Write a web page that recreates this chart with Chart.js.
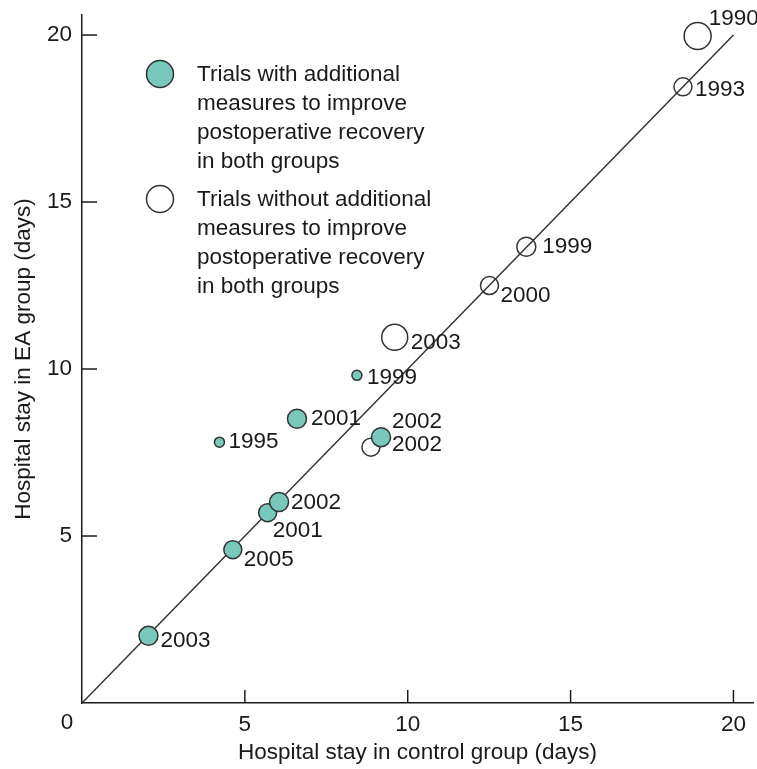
<!DOCTYPE html>
<html>
<head>
<meta charset="utf-8">
<script src="https://cdn.jsdelivr.net/npm/chart.js@4"></script>
<style>
  html, body { margin: 0; padding: 0; background: #fff; overflow: hidden; }
  #wrap { width: 757px; height: 769px; }
</style>
</head>
<body>
<div id="wrap"><canvas id="chart"></canvas></div>
<script>
// trials with additional measures (teal)
const withX = [2.04, 4.63, 5.70, 6.05, 6.6, 4.22, 8.44, 9.18];
const withY = [2.01, 4.59, 5.70, 6.02, 8.51, 7.81, 9.81, 7.96];
const withSize = [9.5, 9, 9, 9.5, 9.5, 5, 5, 9.5];
const withYear = ['2003', '2005', '2001', '2002', '2001', '1995', '1999', '2002'];

// trials without additional measures (open)
const withoutX = [8.87, 9.6, 12.51, 13.64, 18.45, 18.9];
const withoutY = [7.66, 10.95, 12.5, 13.66, 18.45, 19.97];
const withoutSize = [9, 13, 9, 9.5, 9, 13.5];
const withoutYear = ['2002', '2003', '2000', '1999', '1993', '1990'];

const tickValues = [5, 10, 15, 20];
const lineOfEquality = [0, 20];

// where each year label sits relative to its circle
const withLabelPos = [[12, 5], [11, 10], [5, 18], [12, 1], [14, 0], [9, 0], [10, 2], [11, -15]];
const withoutLabelPos = [[21, -2], [16, 6], [11, 10], [16, 0], [12, 3], [11, -17]];

const FONT = "'Liberation Sans', Arial, sans-serif";
const SIZE = 22.5;
const INK = '#1a1a1a';
const TEAL = '#78c8bc';

const extras = {
  id: 'extras',
  afterDatasetsDraw(chart) {
    const { ctx, scales: { x, y } } = chart;
    ctx.save();
    // inward tick marks
    ctx.strokeStyle = INK;
    ctx.lineWidth = 1.5;
    tickValues.forEach(v => {
      const px = x.getPixelForValue(v);
      ctx.beginPath(); ctx.moveTo(px, y.bottom); ctx.lineTo(px, y.bottom - 13); ctx.stroke();
      const py = y.getPixelForValue(v);
      ctx.beginPath(); ctx.moveTo(x.left, py); ctx.lineTo(x.left + 15, py); ctx.stroke();
    });
    // origin label
    ctx.fillStyle = INK;
    ctx.font = SIZE + 'px ' + FONT;
    ctx.textAlign = 'center';
    ctx.textBaseline = 'middle';
    ctx.fillText('0', x.left - 15, y.bottom + 20);

    // year labels
    ctx.textAlign = 'left';
    const put = (dsIndex, years, pos) => {
      chart.getDatasetMeta(dsIndex).data.forEach((el, i) => {
        ctx.fillText(years[i], el.x + pos[i][0], el.y + pos[i][1]);
      });
    };
    put(0, withYear, withLabelPos);
    put(2, withoutYear, withoutLabelPos);

    // legend
    const legend = [
      { cy: 74, fill: TEAL, lines: ['Trials with additional', 'measures to improve', 'postoperative recovery', 'in both groups'] },
      { cy: 199, fill: '#fff', lines: ['Trials without additional', 'measures to improve', 'postoperative recovery', 'in both groups'] }
    ];
    legend.forEach(item => {
      ctx.beginPath();
      ctx.arc(160, item.cy, 13.5, 0, Math.PI * 2);
      ctx.fillStyle = item.fill;
      ctx.fill();
      ctx.lineWidth = 1.5;
      ctx.strokeStyle = '#333';
      ctx.stroke();
      ctx.fillStyle = INK;
      item.lines.forEach((t, k) => ctx.fillText(t, 197, item.cy + 1 + k * 29));
    });
    ctx.restore();
  }
};

new Chart(document.getElementById('chart'), {
  data: {
    datasets: [
      {
        type: 'bubble',
        label: 'Trials with additional measures',
        data: withX.map((v, i) => ({ x: v, y: withY[i], r: withSize[i] })),
        backgroundColor: TEAL,
        borderColor: '#333',
        borderWidth: 1.5,
        order: 0
      },
      {
        type: 'line',
        label: 'Equality',
        data: lineOfEquality.map(v => ({ x: v, y: v })),
        borderColor: '#333',
        borderWidth: 1.5,
        pointRadius: 0,
        fill: false,
        order: 1
      },
      {
        type: 'bubble',
        label: 'Trials without additional measures',
        data: withoutX.map((v, i) => ({ x: v, y: withoutY[i], r: withoutSize[i] })),
        backgroundColor: 'rgba(255,255,255,0)',
        borderColor: '#333',
        borderWidth: 1.5,
        order: 2
      }
    ]
  },
  options: {
    responsive: true,
    maintainAspectRatio: false,
    animation: false,
    layout: { autoPadding: false, padding: { left: 10, right: 4, top: 15, bottom: 3 } },
    plugins: {
      legend: { display: false },
      tooltip: { enabled: false }
    },
    scales: {
      x: {
        type: 'linear',
        min: 0,
        max: 20.6,
        afterBuildTicks: s => { s.ticks = tickValues.map(v => ({ value: v })); },
        afterFit: s => { s.height = 63; s.paddingLeft = 0; s.paddingRight = 0; },
        grid: { display: false, drawTicks: false },
        border: { display: true, color: INK, width: 1.5 },
        ticks: { color: INK, font: { family: FONT, size: SIZE }, padding: 8, maxRotation: 0 },
        title: { display: true, text: 'Hospital stay in control group (days)', color: INK, font: { family: FONT, size: SIZE }, padding: 0 }
      },
      y: {
        type: 'linear',
        min: 0,
        max: 20.6,
        afterBuildTicks: s => { s.ticks = tickValues.map(v => ({ value: v })); },
        afterFit: s => { s.width = 72; s.paddingTop = 0; s.paddingBottom = 0; },
        grid: { display: false, drawTicks: false },
        border: { display: true, color: INK, width: 1.5 },
        ticks: { color: INK, font: { family: FONT, size: SIZE }, padding: 10 },
        title: { display: true, text: 'Hospital stay in EA group (days)', color: INK, font: { family: FONT, size: SIZE }, padding: 0 }
      }
    }
  },
  plugins: [extras]
});
</script>
</body>
</html>
